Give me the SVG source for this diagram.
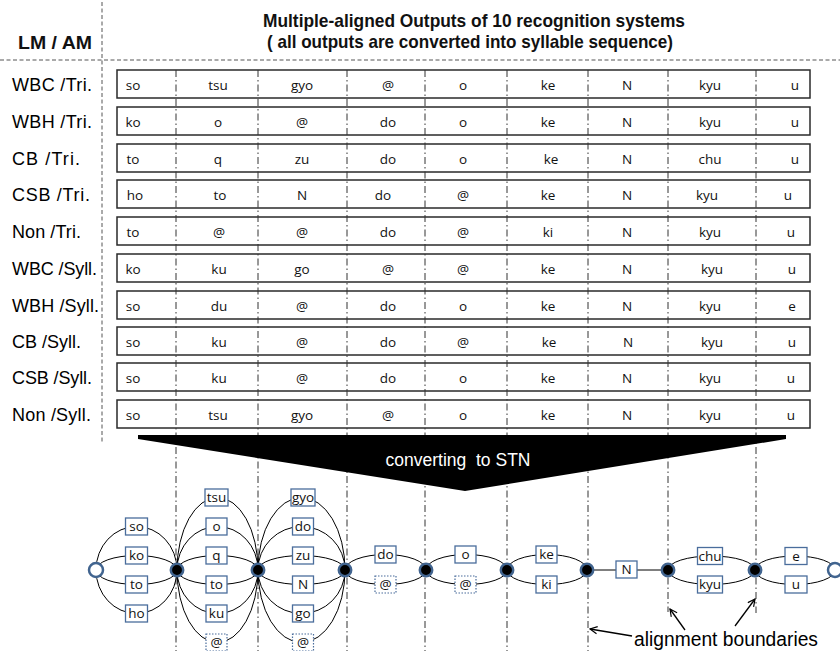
<svg xmlns="http://www.w3.org/2000/svg" width="840" height="651" viewBox="0 0 840 651">
<defs>
<style>
.guide{stroke:#555;stroke-width:1;fill:none;stroke-dasharray:4 2.5}
.div{stroke:#333;stroke-width:1;fill:none;stroke-dasharray:7 3 1.5 3}
.row{fill:#fff;stroke:#2a2a2a;stroke-width:1.5}
.lbl{font-family:"Liberation Sans",Arial,sans-serif;font-size:18px;fill:#000}
.cell{font-family:"Open Sans","Liberation Sans",sans-serif;font-size:13.5px;fill:#111;text-anchor:middle}
.hdr{font-family:"Liberation Sans",Arial,sans-serif;font-weight:bold;font-size:18.5px;fill:#111}
.arc{fill:none;stroke:#000;stroke-width:1}
.box{fill:#fff;stroke:#4a6d9c;stroke-width:1.3}
.dbox{fill:#fff;stroke:#4a6d9c;stroke-width:1.2;stroke-dasharray:1.5 1.5}
.btxt{font-family:"Open Sans","Liberation Sans",sans-serif;font-size:13.5px;fill:#111;text-anchor:middle}
.node{fill:#000;stroke:#41648f;stroke-width:2.5}
.term{fill:#fff;stroke:#41648f;stroke-width:2.5}
.arrow{stroke:#000;stroke-width:1.3;fill:none;marker-end:url(#vhead)}
</style>
<marker id="vhead" viewBox="0 0 10 10" refX="9" refY="5" markerWidth="9" markerHeight="9" orient="auto" markerUnits="userSpaceOnUse">
<path d="M1,1 L9,5 L1,9" fill="none" stroke="#000" stroke-width="1.3"/>
</marker>
</defs>
<rect x="0" y="0" width="840" height="651" fill="#fff"/>

<g id="header">
<line class="guide" x1="0" y1="60" x2="840" y2="60"/>
<line class="guide" x1="102" y1="2" x2="102" y2="443"/>
<text class="hdr" x="18" y="49" textLength="74" lengthAdjust="spacingAndGlyphs">LM / AM</text>
<text class="hdr" x="263" y="27" textLength="422" lengthAdjust="spacingAndGlyphs">Multiple-aligned Outputs of 10 recognition systems</text>
<text class="hdr" x="267" y="48" textLength="406" lengthAdjust="spacingAndGlyphs">( all outputs are converted into syllable sequence)</text>
</g>

<g id="rows">
<g id="row1"><rect class="row" x="117" y="70" width="693" height="28"/><text class="lbl" x="12" y="91" textLength="80" lengthAdjust="spacing">WBC /Tri.</text>
<text class="cell" x="133" y="90">so</text><text class="cell" x="218" y="90">tsu</text><text class="cell" x="302" y="90">gyo</text><text class="cell" x="388" y="90">@</text><text class="cell" x="463" y="90">o</text><text class="cell" x="548" y="90">ke</text><text class="cell" x="627" y="90">N</text><text class="cell" x="710" y="90">kyu</text><text class="cell" x="795" y="90">u</text></g>
<g id="row2"><rect class="row" x="117" y="107" width="693" height="28"/><text class="lbl" x="12" y="128" textLength="80" lengthAdjust="spacing">WBH /Tri.</text>
<text class="cell" x="133" y="127">ko</text><text class="cell" x="218" y="127">o</text><text class="cell" x="302" y="127">@</text><text class="cell" x="388" y="127">do</text><text class="cell" x="463" y="127">o</text><text class="cell" x="548" y="127">ke</text><text class="cell" x="627" y="127">N</text><text class="cell" x="710" y="127">kyu</text><text class="cell" x="795" y="127">u</text></g>
<g id="row3"><rect class="row" x="117" y="144" width="693" height="28"/><text class="lbl" x="12" y="165" textLength="68" lengthAdjust="spacing">CB /Tri.</text>
<text class="cell" x="133" y="164">to</text><text class="cell" x="218" y="164">q</text><text class="cell" x="302" y="164">zu</text><text class="cell" x="388" y="164">do</text><text class="cell" x="463" y="164">o</text><text class="cell" x="551" y="164">ke</text><text class="cell" x="627" y="164">N</text><text class="cell" x="710" y="164">chu</text><text class="cell" x="795" y="164">u</text></g>
<g id="row4"><rect class="row" x="117" y="180" width="693" height="28"/><text class="lbl" x="12" y="201" textLength="78" lengthAdjust="spacing">CSB /Tri.</text>
<text class="cell" x="135" y="200">ho</text><text class="cell" x="220" y="200">to</text><text class="cell" x="302" y="200">N</text><text class="cell" x="383" y="200">do</text><text class="cell" x="463" y="200">@</text><text class="cell" x="548" y="200">ke</text><text class="cell" x="627" y="200">N</text><text class="cell" x="707" y="200">kyu</text><text class="cell" x="788" y="200">u</text></g>
<g id="row5"><rect class="row" x="117" y="217" width="693" height="28"/><text class="lbl" x="12" y="238" textLength="69" lengthAdjust="spacing">Non /Tri.</text>
<text class="cell" x="133" y="237">to</text><text class="cell" x="219" y="237">@</text><text class="cell" x="302" y="237">@</text><text class="cell" x="388" y="237">do</text><text class="cell" x="463" y="237">@</text><text class="cell" x="548" y="237">ki</text><text class="cell" x="627" y="237">N</text><text class="cell" x="710" y="237">kyu</text><text class="cell" x="791" y="237">u</text></g>
<g id="row6"><rect class="row" x="117" y="254" width="693" height="28"/><text class="lbl" x="12" y="275" textLength="85" lengthAdjust="spacing">WBC /Syll.</text>
<text class="cell" x="133" y="274">ko</text><text class="cell" x="219" y="274">ku</text><text class="cell" x="302" y="274">go</text><text class="cell" x="388" y="274">@</text><text class="cell" x="463" y="274">@</text><text class="cell" x="548" y="274">ke</text><text class="cell" x="627" y="274">N</text><text class="cell" x="712" y="274">kyu</text><text class="cell" x="792" y="274">u</text></g>
<g id="row7"><rect class="row" x="117" y="291" width="693" height="28"/><text class="lbl" x="12" y="312" textLength="87" lengthAdjust="spacing">WBH /Syll.</text>
<text class="cell" x="133" y="311">so</text><text class="cell" x="219" y="311">du</text><text class="cell" x="302" y="311">@</text><text class="cell" x="388" y="311">do</text><text class="cell" x="463" y="311">o</text><text class="cell" x="548" y="311">ke</text><text class="cell" x="627" y="311">N</text><text class="cell" x="710" y="311">kyu</text><text class="cell" x="792" y="311">e</text></g>
<g id="row8"><rect class="row" x="117" y="327" width="693" height="28"/><text class="lbl" x="12" y="348" textLength="69" lengthAdjust="spacing">CB /Syll.</text>
<text class="cell" x="133" y="347">so</text><text class="cell" x="219" y="347">ku</text><text class="cell" x="302" y="347">@</text><text class="cell" x="388" y="347">do</text><text class="cell" x="463" y="347">@</text><text class="cell" x="549" y="347">ke</text><text class="cell" x="628" y="347">N</text><text class="cell" x="712" y="347">kyu</text><text class="cell" x="792" y="347">u</text></g>
<g id="row9"><rect class="row" x="117" y="363" width="693" height="28"/><text class="lbl" x="12" y="384" textLength="80" lengthAdjust="spacing">CSB /Syll.</text>
<text class="cell" x="133" y="383">so</text><text class="cell" x="219" y="383">ku</text><text class="cell" x="302" y="383">@</text><text class="cell" x="388" y="383">do</text><text class="cell" x="463" y="383">o</text><text class="cell" x="548" y="383">ke</text><text class="cell" x="627" y="383">N</text><text class="cell" x="710" y="383">kyu</text><text class="cell" x="791" y="383">u</text></g>
<g id="row10"><rect class="row" x="117" y="400" width="693" height="28"/><text class="lbl" x="12" y="421" textLength="79" lengthAdjust="spacing">Non /Syll.</text>
<text class="cell" x="133" y="420">so</text><text class="cell" x="218" y="420">tsu</text><text class="cell" x="302" y="420">gyo</text><text class="cell" x="388" y="420">@</text><text class="cell" x="463" y="420">o</text><text class="cell" x="548" y="420">ke</text><text class="cell" x="627" y="420">N</text><text class="cell" x="710" y="420">kyu</text><text class="cell" x="791" y="420">u</text></g>
</g>

<g id="boundaries">
<line class="div" x1="176" y1="70" x2="176" y2="651"/>
<line class="div" x1="258" y1="70" x2="258" y2="651"/>
<line class="div" x1="347" y1="70" x2="347" y2="651"/>
<line class="div" x1="425" y1="70" x2="425" y2="651"/>
<line class="div" x1="507" y1="70" x2="507" y2="651"/>
<line class="div" x1="588" y1="70" x2="588" y2="651"/>
<line class="div" x1="668" y1="70" x2="668" y2="612"/>
<line class="div" x1="756" y1="70" x2="756" y2="613"/>
</g>

<g id="funnel">
<polygon points="138,435 786,435 786,439 465,491 138,439" fill="#000"/>
<text x="458" y="466" font-family="'Liberation Sans',Arial,sans-serif" font-size="17.5" fill="#fff" text-anchor="middle" xml:space="preserve">converting  to STN</text>
</g>

<g id="connectors">
<path class="arc" d="M96,570 A40.5,43.5 0 0 1 177,570 M96,570 A40.5,14.5 0 0 1 177,570 M96,570 A40.5,14.5 0 0 0 177,570 M96,570 A40.5,43.5 0 0 0 177,570"/>
<path class="arc" d="M177,570 A40.5,72.5 0 0 1 258,570 M177,570 A40.5,43.5 0 0 1 258,570 M177,570 A40.5,14.5 0 0 1 258,570 M177,570 A40.5,14.5 0 0 0 258,570 M177,570 A40.5,43.5 0 0 0 258,570 M177,570 A40.5,72.5 0 0 0 258,570"/>
<path class="arc" d="M258,570 A43.5,72.5 0 0 1 345,570 M258,570 A43.5,43.5 0 0 1 345,570 M258,570 A43.5,14.5 0 0 1 345,570 M258,570 A43.5,14.5 0 0 0 345,570 M258,570 A43.5,43.5 0 0 0 345,570 M258,570 A43.5,72.5 0 0 0 345,570"/>
<path class="arc" d="M345,570 A40.5,15.5 0 0 1 426,570 M345,570 A40.5,14.5 0 0 0 426,570"/>
<path class="arc" d="M426,570 A40.5,15.5 0 0 1 507,570 M426,570 A40.5,14.5 0 0 0 507,570"/>
<path class="arc" d="M507,570 A40,15.5 0 0 1 587,570 M507,570 A40,14.5 0 0 0 587,570"/>
<path class="arc" d="M587,570 L668,570"/>
<path class="arc" d="M668,570 A43.5,14 0 0 1 755,570 M668,570 A43.5,14.5 0 0 0 755,570"/>
<path class="arc" d="M755,570 A40,14 0 0 1 835,570 M755,570 A40,14.5 0 0 0 835,570"/>
</g>

<g id="labels">
<g id="s1"><rect class="box" x="125.5" y="518" width="22" height="17"/><text class="btxt" x="136.5" y="531">so</text>
<rect class="box" x="125.5" y="547" width="22" height="17"/><text class="btxt" x="136.5" y="560">ko</text>
<rect class="box" x="125.5" y="576" width="22" height="17"/><text class="btxt" x="136.5" y="589">to</text>
<rect class="box" x="125.5" y="605" width="22" height="17"/><text class="btxt" x="136.5" y="618">ho</text></g>
<g id="s2"><rect class="box" x="205" y="489" width="23" height="17"/><text class="btxt" x="216.5" y="502">tsu</text>
<rect class="box" x="206" y="518" width="21" height="17"/><text class="btxt" x="216.5" y="531">o</text>
<rect class="box" x="206" y="547" width="21" height="17"/><text class="btxt" x="216.5" y="560">q</text>
<rect class="box" x="206" y="576" width="21" height="17"/><text class="btxt" x="216.5" y="589">to</text>
<rect class="box" x="206" y="605" width="21" height="17"/><text class="btxt" x="216.5" y="618">ku</text>
<rect class="dbox" x="206" y="634" width="21" height="17"/><text class="btxt" x="216.5" y="647">@</text></g>
<g id="s3"><rect class="box" x="291" y="489" width="24" height="17"/><text class="btxt" x="303" y="502">gyo</text>
<rect class="box" x="292.5" y="518" width="21" height="17"/><text class="btxt" x="303" y="531">do</text>
<rect class="box" x="292.5" y="547" width="21" height="17"/><text class="btxt" x="303" y="560">zu</text>
<rect class="box" x="292.5" y="576" width="21" height="17"/><text class="btxt" x="303" y="589">N</text>
<rect class="box" x="292.5" y="605" width="21" height="17"/><text class="btxt" x="303" y="618">go</text>
<rect class="dbox" x="292.5" y="634" width="21" height="17"/><text class="btxt" x="303" y="647">@</text></g>
<g id="s4"><rect class="box" x="375" y="546" width="21" height="17"/><text class="btxt" x="385.5" y="559">do</text>
<rect class="dbox" x="375" y="576" width="21" height="17"/><text class="btxt" x="385.5" y="589">@</text></g>
<g id="s5"><rect class="box" x="455" y="546" width="21" height="17"/><text class="btxt" x="465.5" y="559">o</text>
<rect class="dbox" x="455" y="576" width="21" height="17"/><text class="btxt" x="465.5" y="589">@</text></g>
<g id="s6"><rect class="box" x="536" y="546" width="21" height="17"/><text class="btxt" x="546.5" y="559">ke</text>
<rect class="box" x="536" y="576" width="21" height="17"/><text class="btxt" x="546.5" y="589">ki</text></g>
<g id="s7"><rect class="box" x="616" y="561" width="21" height="17"/><text class="btxt" x="626.5" y="574">N</text></g>
<g id="s8"><rect class="box" x="697.5" y="547.5" width="25" height="17"/><text class="btxt" x="710" y="560.5">chu</text>
<rect class="box" x="697.5" y="576" width="25" height="17"/><text class="btxt" x="710" y="589">kyu</text></g>
<g id="s9"><rect class="box" x="785" y="547.5" width="22" height="17"/><text class="btxt" x="796" y="560.5">e</text>
<rect class="box" x="785" y="576" width="22" height="17"/><text class="btxt" x="796" y="589">u</text></g>
</g>

<g id="nodes">
<circle id="n0" class="term" cx="96" cy="570" r="7"/>
<circle id="n1" class="node" cx="177" cy="570" r="6.2"/>
<circle id="n2" class="node" cx="258" cy="570" r="6.2"/>
<circle id="n3" class="node" cx="345" cy="570" r="6.2"/>
<circle id="n4" class="node" cx="426" cy="570" r="6.2"/>
<circle id="n5" class="node" cx="507" cy="570" r="6.2"/>
<circle id="n6" class="node" cx="587" cy="570" r="6.2"/>
<circle id="n7" class="node" cx="668" cy="570" r="6.2"/>
<circle id="n8" class="node" cx="755" cy="570" r="6.2"/>
<circle id="n9" class="term" cx="835" cy="570" r="7"/>
</g>

<g id="annotation">
<line class="arrow" x1="632" y1="636" x2="590" y2="629"/>
<line class="arrow" x1="685" y1="630" x2="670" y2="609"/>
<line class="arrow" x1="735" y1="626" x2="755" y2="599"/>
<text x="634" y="646" font-family="'Liberation Sans',Arial,sans-serif" font-size="19.5" fill="#000" textLength="184" lengthAdjust="spacingAndGlyphs">alignment boundaries</text>
</g>
</svg>
